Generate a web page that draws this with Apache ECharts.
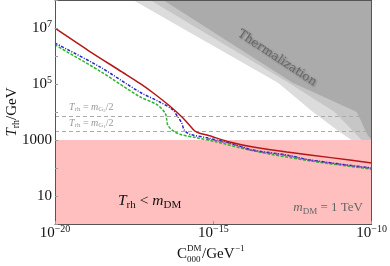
<!DOCTYPE html>
<html><head><meta charset="utf-8">
<script src="https://cdn.jsdelivr.net/npm/echarts@6/dist/echarts.min.js"></script>
<style>html,body{margin:0;padding:0;background:#fff}#c{width:390px;height:266px}</style>
</head><body><div id="c"></div>
<script>
const F = '"Liberation Serif", "Times New Roman", serif';

// ---- data ----
const redX = [1e-20, 1.1e-19, 1.3e-18, 4.8e-18, 1.4e-17, 4.3e-17, 1.1e-16, 1.8e-16, 2.6e-16, 3.7e-16, 6.3e-16, 3.3e-15, 1.8e-14, 2.1e-13, 5.9e-12, 1e-10];
const redY = [9.8e6, 1.6e6, 2.7e5, 1.05e5, 4.4e4, 1.6e4, 6100, 3300, 2100, 1740, 1500, 850, 560, 370, 230, 150];

const blueX = [1e-20, 2.6e-19, 4.8e-18, 2.0e-17, 5.2e-17, 7.6e-17, 1.0e-16, 1.2e-16, 1.8e-16, 6.3e-16, 3.3e-15, 1.8e-14, 2.1e-13, 1.1e-12, 1e-10];
const blueY = [2.9e6, 4.1e5, 5.1e4, 2.3e4, 1.2e4, 6600, 4100, 2300, 1600, 1200, 780, 440, 290, 195, 100];

const greenX = [1e-20, 2.6e-19, 4.8e-18, 1.7e-17, 3.0e-17, 3.4e-17, 3.6e-17, 4.9e-17, 8.7e-17, 3.0e-16, 1.3e-15, 1.8e-14, 1.1e-12, 1e-10];
const greenY = [2.5e6, 2.9e5, 3.5e4, 1.8e4, 9100, 5100, 3500, 2300, 1600, 1200, 850, 410, 180, 91];

const purpleX = [6.3e-16, 3.3e-15, 1.8e-14, 2.1e-13, 1.1e-12, 1e-10];
const purpleY = [1100, 760, 420, 280, 190, 98];

// thermalization region boundaries (filled up to the top of the plot)
const thermLightX = [2.9e-18, 8.7e-17, 1.1e-13, 1.4e-12, 9.8e-12, 2.3e-11, 1e-10];
const thermLightY = [1e8, 1.1e7, 1.1e5, 1e4, 1950, 1000, 1000];
const thermMidX = [1e-17, 8.7e-17, 2.1e-13, 6.8e-12, 4.8e-11, 1e-10];
const thermMidY = [1e8, 2.3e7, 1.2e5, 1e4, 1000, 1000];
const thermDarkX = [2.6e-17, 3.2e-13, 3.4e-11, 7.4e-11, 1e-10];
const thermDarkY = [1e8, 1.1e5, 1e4, 1500, 1000];

const excludedRange = [1, 1000];        // T_rh < m_DM
const massLines = [7200, 2100];         // T_rh = m_G/2 lines

const xTickExps = [-20, -15, -10];
const yLabelExps = [1, 3, 5, 7];

const zip = (xs, ys) => xs.map((x, i) => [x, ys[i]]);
const MINUS = '\u2212';
const expOf = v => Math.round(Math.log10(v));

const tickRich = {
  b: {fontSize: 15, fontFamily: F, color: '#111', lineHeight: 18},
  s: {fontSize: 10, fontFamily: F, color: '#111', lineHeight: 10, verticalAlign: 'top'}
};

const chart = echarts.init(document.getElementById('c'), null, {renderer: 'canvas'});

function areaSeries(xs, ys, color) {
  return {type: 'line', data: zip(xs, ys), symbol: 'none', silent: true, z: 1,
    lineStyle: {width: 0}, areaStyle: {color: color, opacity: 1, origin: 'end'}};
}
function curve(xs, ys, color, type, z) {
  return {type: 'line', data: zip(xs, ys), symbol: 'none', silent: true, z: z,
    smooth: 0.3, lineStyle: {color: color, width: 1.5, type: type}};
}

function lbl(size, color) {
  return {
    i: {fontSize: size, fontStyle: 'italic', fontFamily: F, lineHeight: Math.round(size * 1.2), fill: color},
    n: {fontSize: size, fontFamily: F, lineHeight: Math.round(size * 1.2), fill: color},
    s: {fontSize: Math.round(size * 0.68), fontFamily: F, lineHeight: Math.round(size * 0.68), verticalAlign: 'bottom', fill: color},
    ss: {fontSize: Math.round(size * 0.5), fontFamily: F, lineHeight: Math.round(size * 0.4), verticalAlign: 'bottom', fill: color}
  };
}

chart.setOption({
  animation: false,
  grid: {left: 55, right: 17, top: 0, bottom: 42, show: false},
  xAxis: [{
    type: 'log', logBase: 10, min: 1e-20, max: 1e-10, interval: 5, z: 10,
    axisLine: {show: true, lineStyle: {color: '#555', width: 1}},
    axisTick: {show: true, inside: true, length: 3, lineStyle: {color: '#999'}},
    splitLine: {show: false},
    axisLabel: {margin: 0, rich: tickRich,
      formatter: v => { const e = expOf(v); return xTickExps.includes(e) ? '{b|10}{s|' + (e < 0 ? MINUS + (-e) : e) + '}' : ''; }}
  }, {
    type: 'log', logBase: 10, min: 1e-20, max: 1e-10, position: 'top', z: 10,
    axisLine: {show: true, onZero: false, lineStyle: {color: '#555', width: 1}},
    axisTick: {show: false}, axisLabel: {show: false}, splitLine: {show: false}
  }],
  yAxis: [{
    type: 'log', logBase: 10, min: 1, max: 1e8, interval: 1, z: 10,
    axisLine: {show: true, lineStyle: {color: '#555', width: 1}},
    axisTick: {show: true, inside: true, length: 3, lineStyle: {color: '#999'}},
    splitLine: {show: false},
    axisLabel: {margin: 3, rich: tickRich,
      formatter: v => { const e = expOf(v); if (!yLabelExps.includes(e)) return '';
        if (e === 1) return '{b|10}'; if (e === 3) return '{b|1000}'; return '{b|10}{s|' + e + '}'; }}
  }, {
    type: 'log', logBase: 10, min: 1, max: 1e8, position: 'right', z: 10,
    axisLine: {show: true, onZero: false, lineStyle: {color: '#555', width: 1}},
    axisTick: {show: false}, axisLabel: {show: false}, splitLine: {show: false}
  }],
  series: [
    areaSeries(thermLightX, thermLightY, '#dcdcdc'),
    areaSeries(thermMidX, thermMidY, '#c6c6c6'),
    areaSeries(thermDarkX, thermDarkY, '#ababab'),
    {type: 'line', data: [], z: 2, silent: true,
      markArea: {silent: true, itemStyle: {color: '#ffbfbf', opacity: 1},
        data: [[{yAxis: excludedRange[0]}, {yAxis: excludedRange[1]}]]}},
    {type: 'line', data: [], z: 3, silent: true,
      markLine: {silent: true, symbol: ['none', 'none'], label: {show: false},
        lineStyle: {color: '#aaa', width: 1, type: [4, 3]},
        data: massLines.map(v => ({yAxis: v}))}},
    curve(greenX, greenY, '#2db52d', [3, 1.5], 4),
    curve(blueX, blueY, '#2323c8', [3, 1.5, 1, 1.5], 5),
    curve(purpleX, purpleY, '#8a4cb0', [3, 1.5, 1, 1.5], 6),
    curve(redX, redY, '#b51616', 'solid', 7)
  ],
  graphic: [
    {type: 'text', x: 277, y: 58, rotation: -0.585, z: 20, silent: true,
      style: {text: 'Thermalization', font: '12px "DejaVu Serif"', fill: '#666', align: 'center', verticalAlign: 'middle',
        textShadowColor: 'rgba(0,0,0,0.35)', textShadowBlur: 2, textShadowOffsetX: 1, textShadowOffsetY: 1}},
    {type: 'text', x: 69, y: 113, z: 20, silent: true,
      style: {text: '{i|T}{s|rh}{n| = }{i|m}{s|G}{ss|2}{n|/2}', verticalAlign: 'bottom', fill: '#999', rich: lbl(10, '#999')}},
    {type: 'text', x: 69, y: 129, z: 20, silent: true,
      style: {text: '{i|T}{s|rh}{n| = }{i|m}{s|G}{ss|1}{n|/2}', verticalAlign: 'bottom', fill: '#999', rich: lbl(10, '#999')}},
    {type: 'text', x: 118, y: 201, z: 20, silent: true,
      style: {text: '{i|T}{s|rh}{n| < }{i|m}{s|DM}', verticalAlign: 'middle', fill: '#111', rich: lbl(15.5, '#111')}},
    {type: 'text', x: 363, y: 208, z: 20, silent: true,
      style: {text: '{i|m}{s|DM}{n| = 1 TeV}', align: 'right', verticalAlign: 'middle', fill: '#666', rich: lbl(13, '#666')}},
    {type: 'text', x: 12, y: 112, rotation: Math.PI / 2, z: 20, silent: true,
      style: {text: '{i|T}{s|rh}{n|/GeV}', align: 'center', verticalAlign: 'middle', fill: '#111', rich: lbl(15, '#111')}},
    {type: 'text', x: 177, y: 254, z: 20, silent: true,
      style: {text: 'C', font: '15px ' + F, fill: '#111', verticalAlign: 'middle'}},
    {type: 'text', x: 187, y: 249, z: 20, silent: true,
      style: {text: 'DM', font: '9px ' + F, fill: '#111', verticalAlign: 'middle'}},
    {type: 'text', x: 187, y: 259.5, z: 20, silent: true,
      style: {text: '000', font: '9px ' + F, fill: '#111', verticalAlign: 'middle'}},
    {type: 'text', x: 202, y: 254, z: 20, silent: true,
      style: {text: '/GeV', font: '15px ' + F, fill: '#111', verticalAlign: 'middle'}},
    {type: 'text', x: 235, y: 248.5, z: 20, silent: true,
      style: {text: MINUS + '1', font: '9px ' + F, fill: '#111', verticalAlign: 'middle'}}
  ]
});
</script></body></html>
